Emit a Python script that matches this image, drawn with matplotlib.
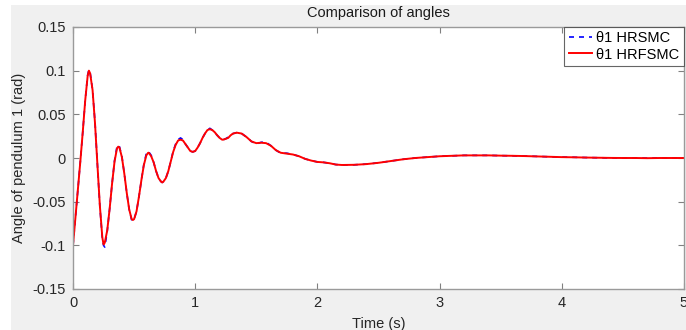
import matplotlib
matplotlib.use("Agg")
import matplotlib.pyplot as plt
from matplotlib.patches import Rectangle

plt.rcParams['font.family'] = ['Liberation Sans', 'DejaVu Sans']

# Time samples (s)
time_s = [0, 0.02, 0.04, 0.06, 0.08, 0.10, 0.12, 0.13, 0.14, 0.16, 0.18, 0.20, 0.22, 0.24,
          0.25, 0.26, 0.28, 0.30, 0.32, 0.34, 0.36, 0.37, 0.38, 0.40, 0.42, 0.44, 0.46, 0.48,
          0.49, 0.50, 0.52, 0.54, 0.56, 0.58, 0.60, 0.615, 0.62, 0.64, 0.66, 0.68, 0.70, 0.72,
          0.73, 0.74, 0.76, 0.78, 0.80, 0.82, 0.84, 0.86, 0.88, 0.90, 0.92, 0.94, 0.96, 0.98,
          1.00, 1.02, 1.04, 1.06, 1.08, 1.10, 1.12, 1.14, 1.16, 1.18, 1.20, 1.22, 1.23, 1.25,
          1.27, 1.29, 1.31, 1.34, 1.38, 1.42, 1.46, 1.50, 1.54, 1.58, 1.62, 1.66, 1.70, 1.75,
          1.80, 1.85, 1.90, 1.95, 2.00, 2.05, 2.10, 2.15, 2.20, 2.30, 2.40, 2.50, 2.60, 2.70,
          2.80, 2.90, 3.00, 3.10, 3.20, 3.30, 3.40, 3.50, 3.60, 3.70, 3.80, 3.90, 4.00, 4.10,
          4.20, 4.30, 4.40, 4.50, 4.60, 4.70, 4.80, 4.90, 5.00]

# Pendulum 1 angle (rad), HRFSMC controller
theta1_hrfsmc = [-0.100, -0.068, -0.036, -0.004, 0.030, 0.066, 0.094, 0.100, 0.097, 0.078,
                 0.040, -0.008, -0.055, -0.091, -0.099, -0.097, -0.083, -0.058, -0.029, -0.004,
                 0.011, 0.013, 0.012, 0.001, -0.018, -0.040, -0.059, -0.070, -0.071, -0.070,
                 -0.061, -0.044, -0.025, -0.008, 0.003, 0.006, 0.006, 0.002, -0.005, -0.015,
                 -0.023, -0.027, -0.028, -0.027, -0.023, -0.015, -0.004, 0.007, 0.015, 0.020,
                 0.021, 0.020, 0.016, 0.012, 0.008, 0.007, 0.008, 0.012, 0.017, 0.023,
                 0.028, 0.032, 0.033, 0.032, 0.0295, 0.026, 0.023, 0.021, 0.021, 0.022,
                 0.023, 0.026, 0.028, 0.029, 0.028, 0.024, 0.019, 0.017, 0.0175, 0.017,
                 0.014, 0.009, 0.006, 0.005, 0.004, 0.002, -0.001, -0.003, -0.0045, -0.005,
                 -0.006, -0.0075, -0.008, -0.0078, -0.007, -0.0055, -0.0035, -0.0015, 0.0, 0.001,
                 0.002, 0.0025, 0.003, 0.003, 0.003, 0.0027, 0.0025, 0.0022, 0.0018, 0.0014,
                 0.001, 0.0008, 0.0005, 0.0003, 0.0001, 0.0, 0.0, -0.0002, 0.0, 0.0, 0.0]

# Pendulum 1 angle (rad), HRSMC controller
theta1_hrsmc = [-0.100, -0.068, -0.036, -0.004, 0.030, 0.066, 0.095, 0.101, 0.098, 0.078,
                0.041, -0.008, -0.056, -0.092, -0.100, -0.102, -0.084, -0.058, -0.029, -0.003,
                0.013, 0.015, 0.013, 0.002, -0.018, -0.040, -0.059, -0.071, -0.072, -0.070,
                -0.061, -0.044, -0.025, -0.007, 0.005, 0.008, 0.007, 0.003, -0.005, -0.015,
                -0.023, -0.027, -0.028, -0.027, -0.023, -0.015, -0.004, 0.008, 0.016, 0.021,
                0.023, 0.021, 0.016, 0.012, 0.008, 0.007, 0.008, 0.012, 0.017, 0.023,
                0.028, 0.032, 0.034, 0.032, 0.029, 0.026, 0.023, 0.021, 0.021, 0.022,
                0.024, 0.026, 0.028, 0.029, 0.028, 0.024, 0.019, 0.016, 0.018, 0.018,
                0.014, 0.009, 0.0055, 0.0055, 0.004, 0.002, -0.001, -0.003, -0.0045, -0.005,
                -0.006, -0.0075, -0.008, -0.0078, -0.007, -0.0055, -0.0035, -0.0015, 0.0, 0.001,
                0.002, 0.0025, 0.003, 0.003, 0.003, 0.0027, 0.0025, 0.0022, 0.0018, 0.0014,
                0.001, 0.0008, 0.0005, 0.0003, 0.0001, 0.0, 0.0, -0.0002, 0.0, 0.0, 0.0]

x_ticks = [0, 1, 2, 3, 4, 5]
y_ticks = [-0.15, -0.1, -0.05, 0, 0.05, 0.1, 0.15]
y_tick_labels = ['-0.15', '-0.1', '-0.05', '0', '0.05', '0.1', '0.15']

W, H = 686, 330
fig = plt.figure(figsize=(W / 100, H / 100), dpi=100, facecolor='#f0f0f0')
# white border strips along the left and top edges
fig.patches.append(Rectangle((0, 0), 11 / W, 1, transform=fig.transFigure,
                             facecolor='white', edgecolor='none', zorder=-1))
fig.patches.append(Rectangle((0, 1 - 5 / H), 1, 5 / H, transform=fig.transFigure,
                             facecolor='white', edgecolor='none', zorder=-1))

ax = fig.add_axes([73 / W, 1 - 289 / H, (684 - 73) / W, (289 - 27) / H])
ax.set_facecolor('white')

ax.plot(time_s, theta1_hrsmc, color='#0000ff', linestyle=(0, (3, 3)), linewidth=1.2,
        label='θ1 HRSMC')
ax.plot(time_s, theta1_hrfsmc, color='#ff0000', linestyle='-', linewidth=1.4,
        label='θ1 HRFSMC')

ax.set_xlim(0, 5)
ax.set_ylim(-0.15, 0.15)
ax.set_xticks(x_ticks)
ax.set_xticklabels([str(v) for v in x_ticks])
ax.set_yticks(y_ticks)
ax.set_yticklabels(y_tick_labels)

ax.tick_params(direction='in', length=4, width=0.8, color='#808080',
               labelsize=10.5, labelcolor='#262626', top=True, right=True, pad=5)
for s in ax.spines.values():
    s.set_color('#9a9a9a')
    s.set_linewidth(1.0)

ax.set_title('Comparison of angles', fontsize=10.5, color='#1a1a1a', pad=7)
ax.set_xlabel('Time (s)', fontsize=10.5, color='#262626', labelpad=5)
ax.set_ylabel('Angle of pendulum 1 (rad)', fontsize=10.5, color='#262626', labelpad=5)

leg = ax.legend(loc='upper right', fontsize=10.5, frameon=True, fancybox=False,
                borderaxespad=0.0, handlelength=1.6, handletextpad=0.3,
                borderpad=0.3, labelspacing=0.15)
leg.get_frame().set_edgecolor('#404040')
leg.get_frame().set_linewidth(0.8)

fig.savefig('out.png', dpi=100, facecolor=fig.get_facecolor())
